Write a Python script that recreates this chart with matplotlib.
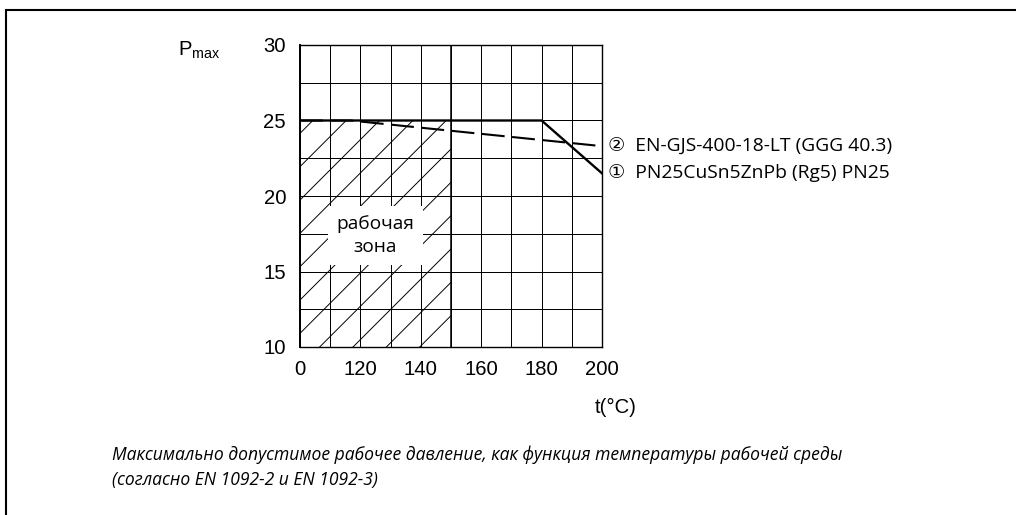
import numpy as np
import matplotlib
matplotlib.use("Agg")
import matplotlib.pyplot as plt
from matplotlib.patches import Rectangle

# data (temperature in °C, pressure in bar)
t_cusn = [0, 180, 200]
p_cusn = [25, 25, 21.5]
t_ggg = [0, 100, 200]
p_ggg = [25, 25, 23.3]
zone_t = [0, 150]
zone_p_low = 10
zone_p_high = 25

x_ticks = [0, 120, 140, 160, 180, 200]
x_minor = [60, 130, 150, 170, 190]
y_ticks = [10, 15, 20, 25, 30]
y_minor = [12.5, 17.5, 22.5, 27.5]

label_cusn = "\u2460  PN25CuSn5ZnPb (Rg5) PN25"
label_ggg = "\u2461  EN-GJS-400-18-LT (GGG 40.3)"
zone_text = "рабочая\nзона"
caption = ("Максимально допустимое рабочее давление, как функция температуры рабочей среды\n"
           "(согласно EN 1092-2 и EN 1092-3)")

plt.rcParams["mathtext.fontset"] = "custom"
plt.rcParams["mathtext.rm"] = "Liberation Sans"
plt.rcParams["hatch.linewidth"] = 0.35
plt.rcParams["hatch.color"] = "black"

W, H, DPI = 1016, 515, 200
fig = plt.figure(figsize=(W / DPI, H / DPI), dpi=DPI)
ax = fig.add_axes([300 / W, 1 - 347 / H, 302 / W, 302 / H])


# the axis is compressed below 120 °C: 0..120 takes two columns, then 10 °C per column
def fwd(t):
    t = np.asarray(t, dtype=float)
    return np.where(t <= 120, t / 60.0, 2 + (t - 120) / 10.0)


def inv(c):
    c = np.asarray(c, dtype=float)
    return np.where(c <= 2, c * 60.0, 120 + (c - 2) * 10.0)


ax.set_xscale("function", functions=(fwd, inv))
ax.set_xlim(0, 200)
ax.set_ylim(10, 30)
ax.set_xticks(x_ticks)
ax.set_xticks(x_minor, minor=True)
ax.set_yticks(y_ticks)
ax.set_yticks(y_minor, minor=True)
ax.grid(True, which="both", color="black", linewidth=0.36)
ax.set_axisbelow(True)
ax.tick_params(which="both", length=0)
ax.tick_params(axis="y", pad=5.0, labelsize=7.3)
ax.tick_params(axis="x", pad=4.6, labelsize=7.3)
for lab in ax.get_xticklabels() + ax.get_yticklabels():
    lab.set_fontfamily("Liberation Sans")
for s in ax.spines.values():
    s.set_linewidth(0.5)
    s.set_color("black")
ax.spines["left"].set_linewidth(0.7)

ax.fill_between(zone_t, zone_p_low, zone_p_high, facecolor="none",
                edgecolor="black", hatch="//", linewidth=0, zorder=1)
ax.axvline(150, color="black", linewidth=0.55, zorder=1)

ax.plot(t_ggg, p_ggg, color="black", linewidth=0.75, dashes=(11, 3.6), zorder=3)
ax.plot(t_cusn, p_cusn, color="black", linewidth=0.85, zorder=4)

for tt, pp, lab in [(t_ggg, p_ggg, label_ggg), (t_cusn, p_cusn, label_cusn)]:
    ax.annotate(lab, xy=(tt[-1], pp[-1]), xytext=(6, 0), textcoords="offset pixels",
                ha="left", va="center", fontsize=6.95,
                family=["Open Sans", "DejaVu Sans"], annotation_clip=False)

ax.text(125, 17.4, zone_text, ha="center", va="center", fontsize=6.9,
        family=["Open Sans", "DejaVu Sans"], linespacing=1.35, zorder=5,
        bbox=dict(facecolor="white", edgecolor="none", pad=3.2))

fig.text(178 / W, 1 - 50 / H, r"P$_{\mathrm{max}}$", ha="left", va="center",
         fontsize=7.3, family="Liberation Sans")
fig.text(637 / W, 1 - 407 / H, "t(°C)", ha="right", va="center",
         fontsize=7.3, family="Liberation Sans")

fig.text(112 / W, 1 - 467 / H, caption, ha="left", va="center", fontsize=6.32,
         style="italic", family=["Open Sans", "DejaVu Sans"],
         linespacing=1.5)

fig.patches.append(Rectangle((6 / W, -0.1), 1.2, (H - 10) / H + 0.1,
                             transform=fig.transFigure, fill=False,
                             edgecolor="black", linewidth=0.75))

fig.savefig("out.png", dpi=DPI)
